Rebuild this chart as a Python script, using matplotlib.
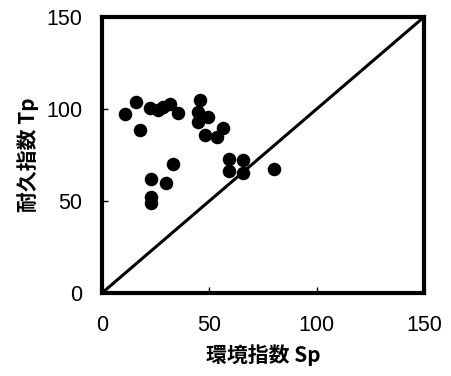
import matplotlib
matplotlib.use("Agg")
import matplotlib.pyplot as plt

# environment index Sp vs durability index Tp
sp = [10.7, 15.7, 17.7, 22.4, 26.2, 28.6, 31.7, 35.5,
      45.6, 44.9, 49.5, 44.9, 48.0, 53.4, 56.2,
      59.3, 59.3, 65.8, 65.8, 80.1,
      32.9, 22.7, 29.8, 22.7, 22.7]
tp = [97.1, 103.6, 88.6, 100.4, 99.5, 101.3, 102.7, 98.0,
      104.9, 98.5, 95.8, 93.1, 85.9, 84.6, 89.5,
      72.8, 66.3, 72.3, 65.0, 67.2,
      69.9, 61.8, 60.0, 52.3, 48.7]
ticks = [0, 50, 100, 150]

plt.rcParams['font.family'] = ['Liberation Sans', 'DejaVu Sans']

fig = plt.figure(figsize=(4.51, 3.76), dpi=100)
ax = fig.add_axes([102 / 451, 1 - 293 / 376, 322 / 451, 276 / 376])

ax.plot([0, 150], [0, 150], color="black", lw=2.2, zorder=2)
ax.scatter(sp, tp, s=95, color="black", zorder=3, linewidths=0)

ax.set_xlim(0, 150)
ax.set_ylim(0, 150)
ax.set_xticks(ticks)
ax.set_yticks(ticks)
ax.tick_params(axis="both", direction="in", length=4, width=1, labelsize=15.5)
ax.tick_params(axis="x", pad=16)
ax.tick_params(axis="y", pad=14)
for s in ax.spines.values():
    s.set_linewidth(3)

jp = ['Noto Sans CJK JP', 'DejaVu Sans']
ax.set_xlabel("環境指数 Sp", family=jp, fontsize=15, fontweight="bold", labelpad=6)
ax.set_ylabel("耐久指数 Tp", family=jp, fontsize=15, fontweight="bold", labelpad=5)

fig.savefig("out.png", dpi=100)
